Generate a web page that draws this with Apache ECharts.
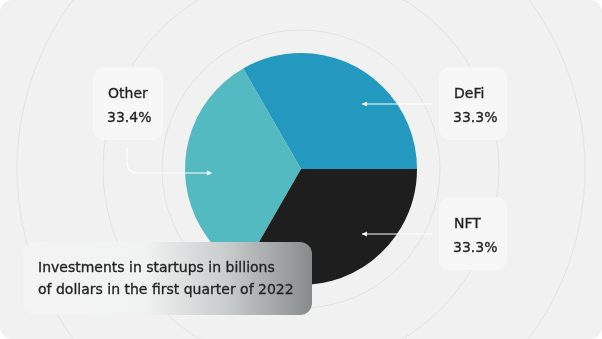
<!DOCTYPE html>
<html>
<head>
<meta charset="utf-8">
<script src="https://cdn.jsdelivr.net/npm/echarts@6/dist/echarts.min.js"></script>
<style>
  html, body { margin: 0; padding: 0; background: #ffffff; }
  #chart { width: 602px; height: 339px; }
</style>
</head>
<body>
<div id="chart"></div>
<script>
// Share of startup investment, Q1 2022 (percent)
const categories = ['DeFi', 'Other', 'NFT'];
const shares = [33.3, 33.4, 33.3];
const sliceColors = ['#2399BF', '#54BAC1', '#1E1E1E'];
const titleLines = [
  'Investments in startups in billions',
  'of dollars in the first quarter of 2022'
];

const FONT = '"DejaVu Sans", "Noto Sans", sans-serif';
const CX = 301, CY = 169, R = 116;

// callout placement for each category
const callouts = {
  DeFi:  { box: [439, 67, 68, 73], arrow: [[432, 104], [362, 104]], dir: 'left' },
  NFT:   { box: [439, 197, 68, 73], arrow: [[432, 234], [362, 234]], dir: 'left' },
  Other: { box: [93, 67, 70, 73], arrow: null, dir: 'right' }
};

const graphics = [];

// card background
graphics.push({
  type: 'rect', z: -20, silent: true,
  shape: { x: 0, y: 0, width: 602, height: 339, r: 12 },
  style: { fill: '#F1F1F1' }
});

// concentric rings behind the pie
[139, 198, 284].forEach(function (r) {
  graphics.push({
    type: 'circle', z: -10, silent: true,
    shape: { cx: CX, cy: CY, r: r },
    style: { fill: 'none', stroke: '#E2E2E2', lineWidth: 1 }
  });
});

const WHITE_LINE = { stroke: '#FFFFFF', lineWidth: 1.2, fill: 'none' };

function arrowHead(x, y, dir) {
  const s = dir === 'left' ? 1 : -1;
  return {
    type: 'polygon', z: 20, silent: true,
    shape: { points: [[x, y], [x + 5 * s, y - 2.5], [x + 5 * s, y + 2.5]] },
    style: { fill: '#FFFFFF' }
  };
}

function label(text, x, capTop, z) {
  return {
    type: 'text', z: z, silent: true,
    x: x, y: capTop - 1,
    style: {
      text: text, fill: '#222222', font: '14px ' + FONT,
      stroke: '#222222', lineWidth: 0.3,
      verticalAlign: 'top', align: 'left'
    }
  };
}

categories.forEach(function (name, i) {
  const c = callouts[name];
  const b = c.box;
  graphics.push({
    type: 'rect', z: 5, silent: true,
    shape: { x: b[0], y: b[1], width: b[2], height: b[3], r: 11 },
    style: { fill: '#F7F7F7' }
  });
  graphics.push(label(name, b[0] + 15, b[1] + 21, 6));
  graphics.push(label(shares[i].toFixed(1) + '%', b[0] + 14, b[1] + 45, 6));
  if (c.arrow) {
    graphics.push({
      type: 'polyline', z: 20, silent: true,
      shape: { points: c.arrow },
      style: WHITE_LINE
    });
    graphics.push(arrowHead(c.arrow[1][0], c.arrow[1][1], c.dir));
  }
});

// curved connector for the left callout: down, round the corner, then right
graphics.push({
  type: 'polyline', z: 20, silent: true,
  shape: { points: [[127, 148], [127, 162]] },
  style: WHITE_LINE
});
graphics.push({
  type: 'bezierCurve', z: 20, silent: true,
  shape: { x1: 127, y1: 162, cpx1: 127, cpy1: 173, x2: 138, y2: 173 },
  style: WHITE_LINE
});
graphics.push({
  type: 'polyline', z: 20, silent: true,
  shape: { points: [[138, 173], [211, 173]] },
  style: WHITE_LINE
});
graphics.push(arrowHead(212, 173, 'right'));

// caption panel
graphics.push({
  type: 'rect', z: 30, silent: true,
  shape: { x: 23, y: 242, width: 289, height: 73, r: 12 },
  style: {
    fill: {
      type: 'linear', x: 0, y: 0, x2: 1, y2: 0,
      colorStops: [
        { offset: 0, color: '#F4F4F4' },
        { offset: 0.42, color: '#F1F2F2' },
        { offset: 0.7, color: '#C9CDCD' },
        { offset: 1, color: '#888B8B' }
      ]
    }
  }
});
titleLines.forEach(function (line, k) {
  graphics.push(label(line, 38, 262 + k * 22, 31));
});

const chart = echarts.init(document.getElementById('chart'), null, { renderer: 'canvas' });
chart.setOption({
  animation: false,
  backgroundColor: 'transparent',
  tooltip: { show: false },
  graphic: { elements: graphics },
  series: [{
    type: 'pie',
    z: 2,
    center: [CX, CY],
    radius: [0, R],
    startAngle: 0,
    clockwise: false,
    label: { show: false },
    labelLine: { show: false },
    emphasis: { disabled: true },
    itemStyle: { borderWidth: 0 },
    data: categories.map(function (name, i) {
      return { name: name, value: shares[i], itemStyle: { color: sliceColors[i] } };
    })
  }]
});
</script>
</body>
</html>
